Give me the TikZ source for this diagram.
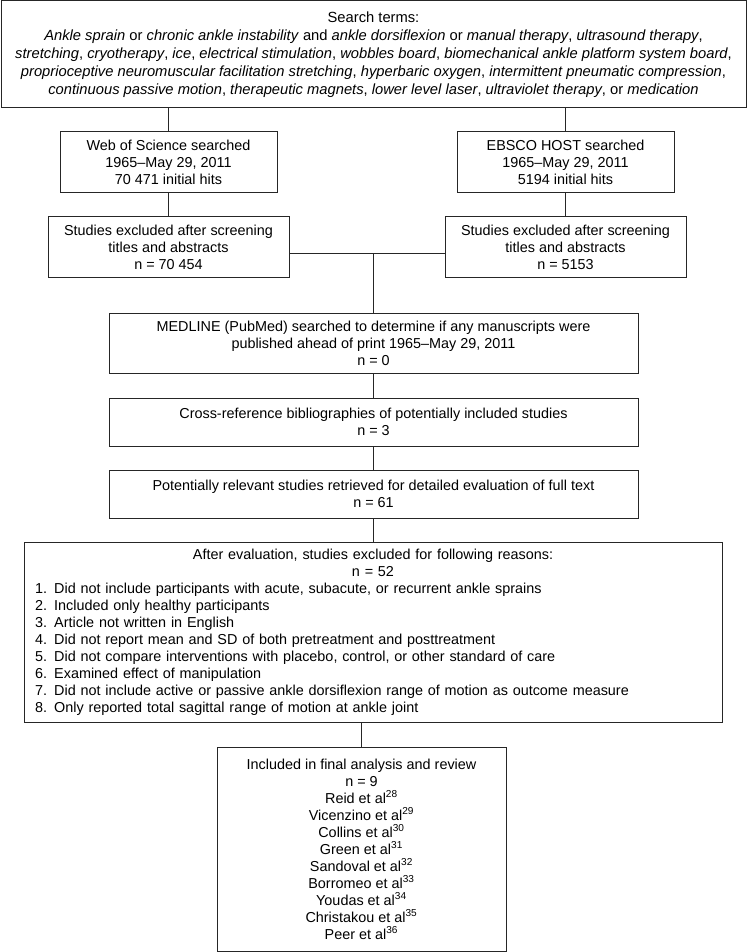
\documentclass[tikz,border=0pt]{standalone}
\usepackage{fontspec}
\setmainfont{Liberation Sans}

\begin{document}
\begin{tikzpicture}[x=0.75pt,y=0.75pt,yscale=-1,xscale=1,
    box/.style={draw=black!85, line width=0.75pt, align=center, inner sep=0pt,
        font=\fontsize{10.8pt}{12.75pt}\selectfont},
    link/.style={draw=black!85, line width=0.75pt}]
    \useasboundingbox (0,0) rectangle (747,952);
    % search terms
    \node (terms) [box, minimum width=558.75pt, minimum height=80.25pt,
        font=\fontsize{11.05pt}{13.5pt}\selectfont] at (373.5,54.5)
        {Search terms:\\
        \textit{Ankle sprain} or \textit{chronic ankle instability} and \textit{ankle dorsiflexion} or \textit{manual therapy}, \textit{ultrasound therapy},\\
        \textit{stretching}, \textit{cryotherapy}, \textit{ice}, \textit{electrical stimulation}, \textit{wobbles board}, \textit{biomechanical ankle platform system board},\\
        \textit{proprioceptive neuromuscular facilitation stretching}, \textit{hyperbaric oxygen}, \textit{intermittent pneumatic compression},\\
        \textit{continuous passive motion}, \textit{therapeutic magnets}, \textit{lower level laser}, \textit{ultraviolet therapy}, or \textit{medication}};
    % databases
    \node (wos) [box, minimum width=162.75pt, minimum height=45.75pt] at (168.5,162.5)
        {Web of Science searched\\ 1965--May 29, 2011\\ 70 471 initial hits};
    \node (ebsco) [box, minimum width=162.75pt, minimum height=45.75pt] at (565.5,162.5)
        {EBSCO HOST searched\\ 1965--May 29, 2011\\ 5194 initial hits};
    \node (exclwos) [box, minimum width=180.75pt, minimum height=45pt] at (168.5,247)
        {Studies excluded after screening\\ titles and abstracts\\ n = 70 454};
    \node (exclebsco) [box, minimum width=180.75pt, minimum height=45pt] at (565.5,247)
        {Studies excluded after screening\\ titles and abstracts\\ n = 5153};
    % middle column
    \node (medline) [box, minimum width=396.75pt, minimum height=45pt] at (373.5,343)
        {MEDLINE (PubMed) searched to determine if any manuscripts were\\ published ahead of print 1965--May 29, 2011\\ n = 0};
    \node (crossref) [box, minimum width=396.75pt, minimum height=36pt] at (373.5,422)
        {Cross-reference bibliographies of potentially included studies\\ n = 3};
    \node (relevant) [box, minimum width=396.75pt, minimum height=36pt] at (373.5,494)
        {Potentially relevant studies retrieved for detailed evaluation of full text\\ n = 61};
    \node (evaluated) [box, align=left, text width=507pt, inner xsep=8.25pt,
        minimum width=523.5pt, minimum height=135pt] at (373,632)
        {{\centering After evaluation, studies excluded for following reasons:\\ n = 52\par}
        1. Did not include participants with acute, subacute, or recurrent ankle sprains\\
        2. Included only healthy participants\\
        3. Article not written in English\\
        4. Did not report mean and SD of both pretreatment and posttreatment\\
        5. Did not compare interventions with placebo, control, or other standard of care\\
        6. Examined effect of manipulation\\
        7. Did not include active or passive ankle dorsiflexion range of motion as outcome measure\\
        8. Only reported total sagittal range of motion at ankle joint};
    \node (included) [box, minimum width=216.75pt, minimum height=153pt] at (361.5,849)
        {Included in final analysis and review\\ n = 9\\
        Reid et al\textsuperscript{28}\\
        Vicenzino et al\textsuperscript{29}\\
        Collins et al\textsuperscript{30}\\
        Green et al\textsuperscript{31}\\
        Sandoval et al\textsuperscript{32}\\
        Borromeo et al\textsuperscript{33}\\
        Youdas et al\textsuperscript{34}\\
        Christakou et al\textsuperscript{35}\\
        Peer et al\textsuperscript{36}};
    \coordinate (join) at (373.5,253);
    % connectors
    \draw [link] (wos.north |- terms.south) -- (wos.north);
    \draw [link] (ebsco.north |- terms.south) -- (ebsco.north);
    \draw [link] (wos) -- (exclwos);
    \draw [link] (ebsco) -- (exclebsco);
    \draw [link] (exclwos.east |- join) -- (exclebsco.west |- join);
    \draw [link] (join) -- (medline.north);
    \draw [link] (medline) -- (crossref);
    \draw [link] (crossref) -- (relevant);
    \draw [link] (relevant.south) -- (relevant.south |- evaluated.north);
    \draw [link] (included.north |- evaluated.south) -- (included.north);
\end{tikzpicture}
\end{document}
